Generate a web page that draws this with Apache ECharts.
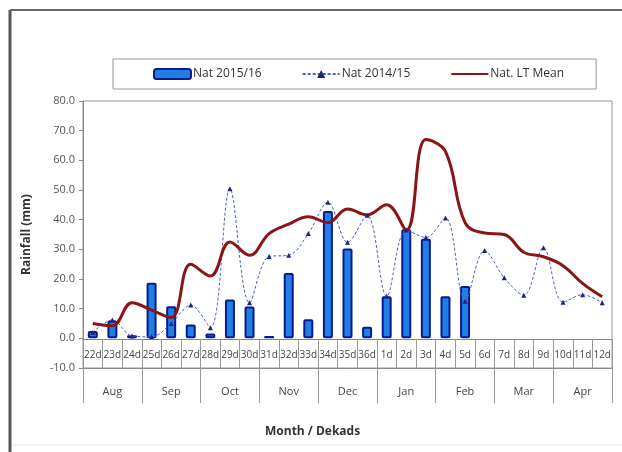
<!DOCTYPE html>
<html>
<head>
<meta charset="utf-8">
<script src="https://cdn.jsdelivr.net/npm/echarts@6/dist/echarts.min.js"></script>
<style>
  html, body { margin: 0; padding: 0; background: #fff; }
  #chart { width: 622px; height: 452px; }
</style>
</head>
<body>
<div id="chart"></div>
<script>
// dekads (x axis) and month groups
var dekads = ['22d', '23d', '24d', '25d', '26d', '27d', '28d', '29d', '30d', '31d', '32d', '33d', '34d', '35d', '36d',
    '1d', '2d', '3d', '4d', '5d', '6d', '7d', '8d', '9d', '10d', '11d', '12d']
var months = ['Aug', 'Sep', 'Oct', 'Nov', 'Dec', 'Jan', 'Feb', 'Mar', 'Apr']

// rainfall values (mm)
var nat1516 = [2.5, 6, 1, 18.7, 10.8, 4.7, 1.6, 13.1, 10.7, 0.8, 22, 6.4, 42.9, 30.3, 3.9,
    14.2, 36.8, 33.6, 14.2, 17.6, null, null, null, null, null, null, null]
var nat1415 = [2, 6.2, 0.8, 0.5, 5, 11.2, 3.6, 50.4, 12, 27.6, 28, 35.3, 45.9, 32.4, 41.5,
    14.2, 36.5, 34, 40.6, 12.5, 29.6, 20.4, 14.5, 30.5, 12.2, 14.7, 12]
var ltMean = [5, 4.2, 12, 9.5, 7, 25, 21, 32.5, 28, 35.3, 38.5, 41, 39, 43.6, 41.6,
    45, 36.5, 67, 63, 39, 35.5, 35, 29, 27.5, 24.5, 18.5, 14]

var font = 'Open Sans, Liberation Sans, sans-serif'
var myChart = echarts.init(document.getElementById('chart'))
var option = {
    animation: false,
    textStyle: { fontFamily: font },
    graphic: [
        // chart frame (left / top dark, bottom light)
        { type: 'line', shape: { x1: 10, y1: 10, x2: 10, y2: 452 }, style: { stroke: '#555', lineWidth: 3 } },
        { type: 'line', shape: { x1: 10, y1: 10, x2: 622, y2: 10 }, style: { stroke: '#666', lineWidth: 2 } },
        { type: 'line', shape: { x1: 12, y1: 445, x2: 622, y2: 445 }, style: { stroke: '#e4e4e4', lineWidth: 1 } }
    ],
    title: {
        text: 'Month / Dekads',
        left: 260,
        top: 421,
        textStyle: { fontSize: 12, fontWeight: 'bold', color: '#333', fontFamily: font }
    },
    legend: {
        left: 113,
        top: 59,
        padding: [9, 32, 9, 40],
        itemGap: 40,
        itemWidth: 37,
        itemHeight: 10,
        borderColor: '#999',
        borderWidth: 1,
        textStyle: { fontSize: 12, color: '#333', padding: [0, 0, 0, -3] },
        data: [
            'Nat 2015/16',
            'Nat 2014/15',
            { name: 'Nat. LT Mean', itemStyle: { opacity: 0 } }
        ]
    },
    grid: [
        // plot area (-10 .. 80)
        { left: 83, right: 10, top: 101, bottom: 84, show: true, borderColor: '#999', borderWidth: 1 },
        // dekad row on the zero line
        { left: 83, right: 10, top: 101, bottom: 113 },
        // month row below the plot
        { left: 83, right: 10, top: 367, height: 1 }
    ],
    xAxis: [
        { type: 'category', gridIndex: 0, data: dekads, show: false },
        {
            type: 'category',
            gridIndex: 1,
            data: dekads,
            axisLine: { show: true, onZero: false, lineStyle: { color: '#888' } },
            axisTick: { show: true, interval: 0, length: 29, lineStyle: { color: '#999' } },
            axisLabel: { show: true, interval: 0, fontSize: 10, margin: 11, color: '#444' }
        },
        {
            type: 'category',
            gridIndex: 2,
            data: months,
            axisLine: { show: true, onZero: false, lineStyle: { color: '#888' } },
            axisTick: { show: true, interval: 0, length: 35, lineStyle: { color: '#999' } },
            axisLabel: { show: true, interval: 0, fontSize: 11, margin: 18, color: '#444' }
        }
    ],
    yAxis: [
        {
            type: 'value',
            gridIndex: 0,
            min: -10,
            max: 80,
            interval: 10,
            name: 'Rainfall (mm)',
            nameLocation: 'middle',
            nameGap: 50,
            nameTextStyle: { fontSize: 12, fontWeight: 'bold', color: '#333' },
            axisLine: { show: true, lineStyle: { color: '#888' } },
            axisTick: { show: true, length: 4, lineStyle: { color: '#888' } },
            axisLabel: {
                fontSize: 11,
                color: '#555',
                margin: 8,
                formatter: function (v) { return v.toFixed(1) }
            },
            splitLine: { show: false }
        },
        { type: 'value', gridIndex: 1, show: false },
        { type: 'value', gridIndex: 2, show: false }
    ],
    series: [
        {
            name: 'Nat 2015/16',
            type: 'bar',
            xAxisIndex: 0,
            yAxisIndex: 0,
            data: nat1516,
            barWidth: 10,
            itemStyle: { color: '#1f7fe6', borderColor: '#0a1a8c', borderWidth: 2, borderRadius: 1 }
        },
        {
            name: 'Nat 2014/15',
            type: 'line',
            xAxisIndex: 0,
            yAxisIndex: 0,
            data: nat1415,
            smooth: 0.35,
            symbol: 'triangle',
            symbolSize: 5,
            lineStyle: { color: '#4a5cd6', width: 1, type: [3, 2] },
            itemStyle: { color: '#1a2580' }
        },
        {
            name: 'Nat. LT Mean',
            type: 'line',
            xAxisIndex: 0,
            yAxisIndex: 0,
            data: ltMean,
            smooth: 0.4,
            symbol: 'none',
            lineStyle: { color: '#8b1414', width: 3 },
            itemStyle: { color: '#8b1414' }
        }
    ]
}
myChart.setOption(option)
</script>
</body>
</html>
